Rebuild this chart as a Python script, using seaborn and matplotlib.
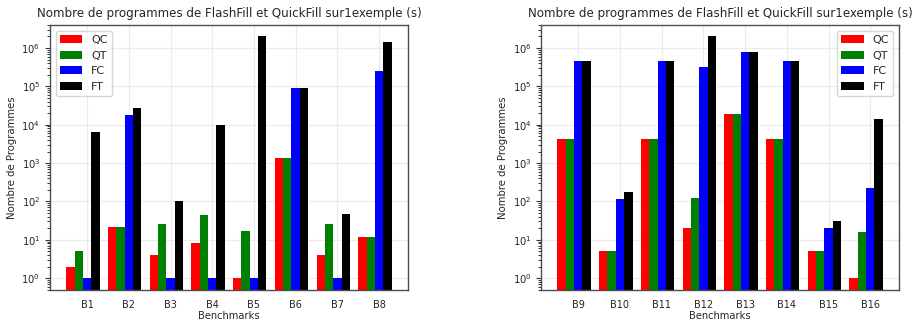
import numpy as np
import pandas as pd
import matplotlib
matplotlib.use("Agg")
import matplotlib.pyplot as plt
import matplotlib.ticker as mtick
import seaborn as sns

series = ["QC", "QT", "FC", "FT"]
colors = ["red", "green", "blue", "black"]

bench_left = ["B1", "B2", "B3", "B4", "B5", "B6", "B7", "B8"]
qc_left = [2, 21, 4, 8, 1, 1330, 4, 12]
qt_left = [5, 21, 25, 44, 17, 1330, 25, 12]
fc_left = [1, 18000, 1, 1, 1, 93000, 1, 250000]
ft_left = [6300, 27500, 100, 10000, 2100000, 93000, 47, 1470000]

bench_right = ["B9", "B10", "B11", "B12", "B13", "B14", "B15", "B16"]
qc_right = [4250, 5, 4250, 20, 19000, 4250, 5, 1]
qt_right = [4250, 5, 4250, 120, 19000, 4250, 5, 16]
fc_right = [460000, 117, 460000, 318000, 770000, 460000, 20, 223]
ft_right = [460000, 178, 460000, 2100000, 770000, 460000, 30, 14400]

major_ticks = [1, 10, 100, 1000, 10000, 100000, 1000000]


def to_long(bench, cols):
    rows = []
    for s, vals in zip(series, cols):
        for b, v in zip(bench, vals):
            rows.append({"bench": b, "series": s, "value": v})
    return pd.DataFrame(rows)


sns.set_style("whitegrid", {
    "axes.edgecolor": "0.3",
    "grid.color": "0.93",
    "ytick.left": True,
    "xtick.bottom": False,
})
plt.rcParams["font.family"] = ["DejaVu Sans"]
plt.rcParams["ytick.minor.left"] = True
plt.rcParams["ytick.minor.visible"] = True

fig, axes = plt.subplots(1, 2, figsize=(9.17, 3.24), dpi=100)
fig.subplots_adjust(left=0.0545, right=0.9804, bottom=0.105, top=0.923, wspace=0.3725)

panels = [
    (bench_left, [qc_left, qt_left, fc_left, ft_left], "upper left"),
    (bench_right, [qc_right, qt_right, fc_right, ft_right], "upper right"),
]

for ax, (bench, cols, loc) in zip(axes, panels):
    df = to_long(bench, cols)
    sns.barplot(
        data=df, x="bench", y="value", hue="series",
        palette=colors, saturation=1, errorbar=None, ax=ax,
        width=0.8, linewidth=0
    )
    ax.set_yscale("log")
    ax.set_ylim(0.49, 4e6)
    ax.set_xlim(-0.79, 7.79)
    ax.set_yticks(major_ticks)
    ax.yaxis.set_minor_locator(mtick.LogLocator(base=10, subs=np.arange(2, 10), numticks=100))
    ax.yaxis.set_minor_formatter(mtick.NullFormatter())
    ax.set_xticks(np.arange(len(bench)) + 0.1)
    ax.set_xticklabels(bench, fontsize=7)
    ax.yaxis.set_tick_params(which="major", labelsize=7.2, length=3.5, width=0.8, color="0.2", left=True)
    ax.yaxis.set_tick_params(which="minor", length=2.2, width=0.7, color="0.2", left=True)
    ax.grid(True, which="major", axis="both", color="0.92", linewidth=0.8)
    ax.grid(False, which="minor")
    ax.set_axisbelow(True)
    ax.set_title("Nombre de programmes de FlashFill et QuickFill sur1exemple (s)", fontsize=8.6)
    ax.set_xlabel("Benchmarks", fontsize=7.1, labelpad=1)
    ax.set_ylabel("Nombre de Programmes", fontsize=7.3, labelpad=3)
    for spine in ax.spines.values():
        spine.set_linewidth(1.0)
    ax.legend(loc=loc, fontsize=8, title=None, fancybox=True, framealpha=0.8)

plt.savefig("out.png", dpi=100)
